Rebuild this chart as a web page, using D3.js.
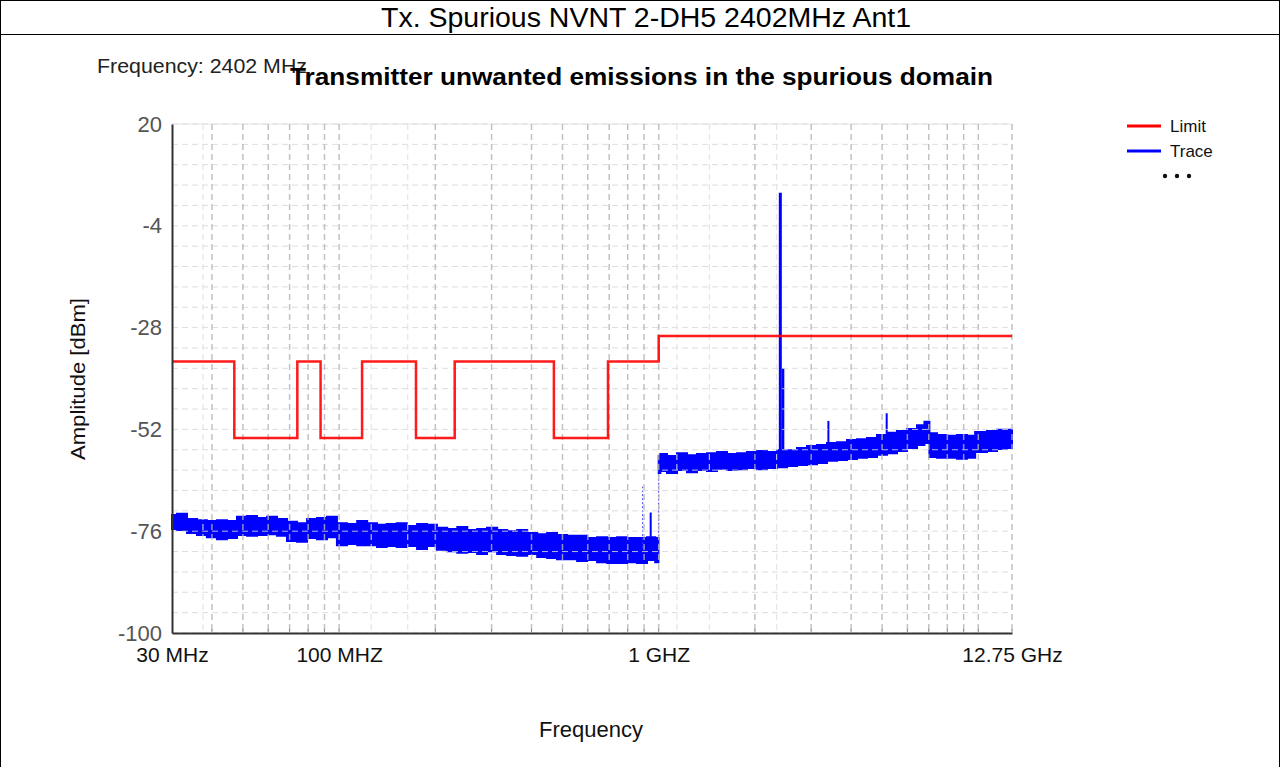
<!DOCTYPE html>
<html><head><meta charset="utf-8">
<script src="https://d3js.org/d3.v7.min.js"></script>
<style>body{margin:0;background:#fff}svg{display:block}text{font-family:"Liberation Sans",Arial,sans-serif}</style>
</head><body><svg id="c" width="1280" height="767"></svg>
<script>
// ---- data ----
const pageTitle = "Tx. Spurious NVNT 2-DH5 2402MHz Ant1";
const chartTitle = "Transmitter unwanted emissions in the spurious domain";
const freqNote = "Frequency: 2402 MHz";
const yTicks = [20, -4, -28, -52, -76, -100];
const xTickVals = [30, 100, 1000, 12750];            // MHz
const xTickLabels = ["30 MHz", "100 MHZ", "1 GHZ", "12.75 GHz"];
const gridFreqs = [40,50,60,70,80,90,100,200,300,400,500,600,700,800,900,1000,2000,3000,4000,5000,6000,7000,8000,9000,10000,12750];
const lightGridFreqs = [37.5,126,164,1140,1440,2340];
// limit (step after each start frequency)
const limitFreq  = [30, 47, 74, 87.5, 118, 174, 230, 470, 694, 1000, 12750];
const limitLevel = [-36, -54, -36, -54, -36, -54, -36, -54, -36, -30, -30];
// trace envelope, 30 MHz - 1 GHz
const lowFreq = [30,32.2,34.7,37.2,40,43,46.2,49.7,53.4,57.4,61.7,66.3,71.2,76.6,82.3,88.4,95,102,110,118,127,136,146,157,169,182,195,210,226,243,261,280,301,324,348,374,402,432,464,498,536,576,619,665,715,768,825,887,953,998];
const lowTop  = [-72.2,-71.9,-73.1,-73.4,-73.6,-73.4,-73.6,-72.6,-72.4,-72.9,-72.6,-73.1,-73.8,-74.1,-73.1,-72.9,-72.6,-74.1,-74.3,-73.6,-74.1,-74.5,-74.3,-74.1,-74.8,-74.3,-74.5,-75.2,-75.5,-75.0,-75.7,-75.5,-75.2,-75.7,-76.0,-75.7,-76.4,-76.7,-76.4,-76.9,-77.1,-77.1,-77.6,-77.4,-77.6,-77.4,-77.6,-77.6,-77.4,-77.6];
const lowBot  = [-75.5,-75.7,-76.4,-76.9,-77.4,-77.9,-77.6,-76.9,-77.1,-76.9,-76.7,-77.1,-78.3,-78.5,-77.6,-77.9,-77.4,-79.3,-79.0,-79.3,-79.3,-79.7,-79.5,-79.7,-79.5,-80.2,-79.5,-80.4,-80.7,-81.1,-80.9,-81.4,-80.7,-81.4,-81.6,-81.8,-81.4,-82.1,-82.3,-82.6,-82.6,-83.0,-82.8,-83.3,-83.5,-83.5,-83.3,-83.5,-82.8,-83.3];
// trace envelope, 1 GHz - 12.75 GHz
const highFreq = [1000,1024,1101,1183,1271,1366,1468,1578,1696,1823,1959,2105,2263,2432,2613,2809,3018,3244,3486,3747,4027,4327,4651,4998,5371,5773,6204,6668,6900,7166,7701,8277,8895,9560,10000,10274,11042,11866,12750];
const highTop  = [-58.3,-57.8,-58.3,-57.6,-58.1,-57.8,-57.6,-57.3,-57.8,-57.6,-57.3,-57.1,-57.3,-56.9,-56.9,-56.4,-55.9,-55.7,-55.2,-55.0,-54.5,-54.3,-54.0,-53.3,-52.8,-52.4,-51.9,-51.0,-50.2,-52.9,-53.3,-53.5,-53.3,-53.5,-52.6,-52.6,-52.4,-52.1,-52.1];
const highBot  = [-62.3,-61.8,-62.3,-61.6,-62.1,-61.6,-61.8,-61.3,-61.6,-61.4,-61.1,-61.4,-61.1,-60.9,-60.6,-60.4,-60.2,-59.9,-59.4,-59.2,-59.0,-58.7,-58.5,-58.0,-57.6,-57.1,-56.4,-55.7,-55.2,-58.5,-58.7,-58.7,-58.9,-58.7,-57.3,-57.3,-57.1,-56.6,-56.4];
// spikes: frequency (MHz), base and peak (dBm)
const spikeFreq = [944, 2402, 2450, 3396, 5169];
const spikeBase = [-80, -60, -60, -58, -55];
const spikePeak = [-71.6, 3.8, -37.6, -50.0, -48.2];
const spikeWidth = [2, 3, 2.5, 2, 2];
// dotted markers
const dotFreq = [891, 1000];
const dotFrom = [-80, -82];
const dotTo   = [-65.5, -59];

// ---- chart ----
const svg = d3.select("#c");
const W = 1280, H = 767;
const m = {left:172, right:1012, top:124, bottom:633};
const x = d3.scaleLog().domain([30, 12750]).range([m.left, m.right]);
const y = d3.scaleLinear().domain([-100, 20]).range([m.bottom, m.top]);

// page frame
svg.append("rect").attr("x",0.5).attr("y",0.5).attr("width",W-1).attr("height",H).attr("fill","none").attr("stroke","#000").attr("stroke-width",1);
svg.append("line").attr("x1",0).attr("x2",W).attr("y1",34.5).attr("y2",34.5).attr("stroke","#000");
svg.append("text").attr("x",646).attr("y",27).attr("text-anchor","middle").attr("font-size",27)
  .attr("textLength",530).attr("lengthAdjust","spacingAndGlyphs").text(pageTitle);

// trace area
const lowData = lowFreq.map((f,i)=>({f, t:lowTop[i], b:lowBot[i]}));
const highData = highFreq.map((f,i)=>({f, t:highTop[i], b:highBot[i]}));
const area = d3.area().x(d=>x(d.f)).y0(d=>y(d.b)).y1(d=>y(d.t)).curve(d3.curveStep);
const g = svg.append("g");
[lowData, highData].forEach(dd=>{
  g.append("path").datum(dd).attr("d", area).attr("fill","#0000ff").attr("stroke","#0000ff").attr("stroke-width",2);
});
spikeFreq.forEach((f,i)=>{
  g.append("line").attr("x1",x(f)).attr("x2",x(f)).attr("y1",y(spikeBase[i])).attr("y2",y(spikePeak[i]))
   .attr("stroke","#0000ff").attr("stroke-width",spikeWidth[i]);
});
dotFreq.forEach((f,i)=>{
  g.append("line").attr("x1",x(f)).attr("x2",x(f)).attr("y1",y(dotFrom[i])).attr("y2",y(dotTo[i]))
   .attr("stroke","#3333ff").attr("stroke-width",1).attr("stroke-dasharray","2,2");
});

// grid
const grid = svg.append("g");
d3.range(0, 26).map(i=>-100 + i*4.8).forEach(v=>{
  grid.append("line").attr("x1",m.left).attr("x2",m.right).attr("y1",y(v)).attr("y2",y(v))
    .attr("stroke","#d8d8d8").attr("stroke-width",1).attr("stroke-dasharray","6,4").attr("opacity",0.85);
});
grid.append("line").attr("x1",m.left).attr("x2",m.right).attr("y1",y(20)).attr("y2",y(20)).attr("stroke","#e4e4e4");
gridFreqs.forEach(f=>{
  grid.append("line").attr("x1",x(f)).attr("x2",x(f)).attr("y1",m.top).attr("y2",m.bottom)
    .attr("stroke","#b4b4b4").attr("stroke-width",1.5).attr("stroke-dasharray","6,4").attr("opacity",0.8);
});
lightGridFreqs.forEach(f=>{
  grid.append("line").attr("x1",x(f)).attr("x2",x(f)).attr("y1",m.top).attr("y2",m.bottom)
    .attr("stroke","#e0e0e0").attr("stroke-width",1).attr("stroke-dasharray","6,4");
});

// limit
const limitData = limitFreq.map((f,i)=>({f, v:limitLevel[i]}));
svg.append("path").datum(limitData)
  .attr("d", d3.line().x(d=>x(d.f)).y(d=>y(d.v)).curve(d3.curveStepAfter))
  .attr("fill","none").attr("stroke","#ff0000").attr("stroke-width",2.5).attr("opacity",0.9);

// axes
const yAxis = d3.axisLeft(y).tickValues(yTicks).tickFormat(d=>String(d)).tickSize(0).tickPadding(10);
const ya = svg.append("g").attr("transform",`translate(${m.left},0)`).call(yAxis);
ya.select(".domain").attr("stroke","#333").attr("stroke-width",2);
ya.selectAll("text").attr("font-size",22).attr("fill","#555").attr("font-family","'Liberation Sans',Arial,sans-serif");

const xAxis = d3.axisBottom(x).tickValues(xTickVals).tickFormat((d,i)=>xTickLabels[i]).tickSize(0).tickPadding(14);
const xa = svg.append("g").attr("transform",`translate(0,${m.bottom})`).call(xAxis);
xa.select(".domain").attr("stroke","#333").attr("stroke-width",2);
xa.selectAll("text").attr("font-size",21).attr("fill","#111").attr("font-family","'Liberation Sans',Arial,sans-serif");
// small tick marks along bottom
gridFreqs.forEach(f=>{
  svg.append("line").attr("x1",x(f)).attr("x2",x(f)).attr("y1",m.bottom-4).attr("y2",m.bottom).attr("stroke","#888");
});

// titles
svg.append("text").attr("x",97).attr("y",73).attr("font-size",20).attr("fill","#222")
  .attr("textLength",210).attr("lengthAdjust","spacingAndGlyphs").text(freqNote);
svg.append("text").attr("x",290).attr("y",85).attr("font-size",24).attr("font-weight","bold").attr("fill","#000")
  .attr("textLength",703).attr("lengthAdjust","spacingAndGlyphs").text(chartTitle);
svg.append("text").attr("transform","translate(85,379) rotate(-90)").attr("text-anchor","middle")
  .attr("font-size",20).attr("fill","#111").attr("textLength",162).attr("lengthAdjust","spacingAndGlyphs").text("Amplitude [dBm]");
svg.append("text").attr("x",591).attr("y",737).attr("text-anchor","middle").attr("font-size",22).attr("fill","#111").text("Frequency");

// legend
const legNames = ["Limit","Trace"], legColors = ["#ff0000","#0000ff"];
legNames.forEach((n,i)=>{
  const ly = 126 + i*25;
  svg.append("line").attr("x1",1127).attr("x2",1161).attr("y1",ly).attr("y2",ly).attr("stroke",legColors[i]).attr("stroke-width",3);
  svg.append("text").attr("x",1170).attr("y",ly+6).attr("font-size",17).attr("fill","#111").text(n);
});
[1165,1177,1189].forEach(cx=>svg.append("circle").attr("cx",cx).attr("cy",176).attr("r",2.2).attr("fill","#111"));
</script></body></html>
